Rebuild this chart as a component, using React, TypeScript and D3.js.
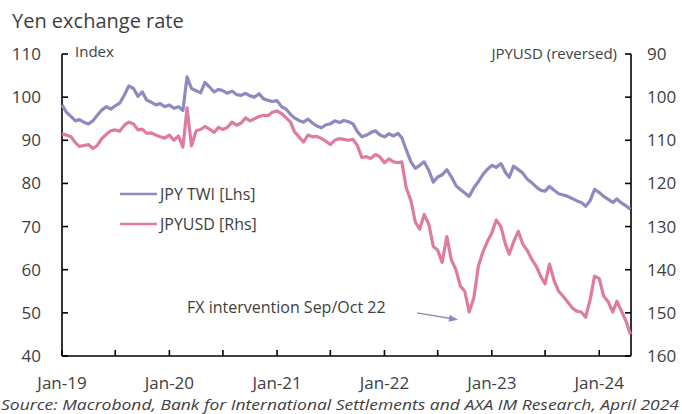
import React from "react";
import * as d3 from "d3";

// Semi-monthly observations (1st and 16th of each month), Jan-2019 .. Apr-2024
const twi: number[] = [
  // 2019
  98.2, 96.5, 95.5, 94.5, 94.8, 94.2, 93.8, 94.5, 95.8, 97.0, 97.8, 97.2,
  98.0, 98.6, 100.5, 102.6, 102.0, 100.2, 101.2, 99.3, 98.8, 98.2, 98.5, 97.8,
  // 2020
  98.2, 97.4, 97.8, 96.9, 104.7, 102.0, 101.5, 101.0, 103.4, 102.4, 101.2, 101.8,
  101.5, 100.9, 101.4, 100.6, 100.4, 100.9, 100.3, 100.0, 100.8, 99.6, 99.3, 99.0,
  // 2021
  99.2, 97.8, 97.2, 96.0, 95.2, 94.6, 94.2, 94.9, 94.0, 93.3, 92.9, 93.6,
  93.8, 94.5, 94.1, 94.6, 94.3, 93.8, 92.0, 90.8, 91.2, 91.8, 92.2, 91.3,
  // 2022
  90.8, 91.5, 91.0, 91.6, 90.6, 87.8, 85.0, 83.5, 84.2, 85.0, 83.0, 80.3,
  81.5, 82.0, 83.2, 81.6, 79.5, 78.6, 77.8, 77.0, 79.0, 80.4, 82.0, 83.2,
  // 2023
  84.2, 83.7, 84.6, 82.6, 81.4, 84.0, 83.2, 82.4, 81.0, 80.2, 79.2, 78.4,
  78.2, 79.3, 78.4, 77.6, 77.3, 77.0, 76.5, 76.0, 75.6, 74.7, 76.0, 78.6,
  // 2024
  77.9, 77.0, 76.3, 75.6, 76.4, 75.5, 74.8, 74.0,
];

const jpyusd: number[] = [
  // 2019
  108.5, 108.8, 109.2, 110.6, 111.4, 111.2, 111.0, 111.9, 111.2, 109.6, 108.6, 107.8,
  107.6, 107.9, 106.5, 105.8, 106.2, 107.6, 107.4, 108.4, 108.3, 108.8, 109.2, 109.5,
  // 2020
  108.8, 110.0, 109.0, 111.6, 102.5, 111.3, 107.8, 107.5, 106.8, 107.4, 108.2, 107.0,
  107.5, 107.0, 105.8, 106.5, 106.0, 104.8, 105.5, 105.0, 104.5, 104.2, 104.3, 103.5,
  // 2021
  103.2, 103.8, 104.8, 105.8, 108.0, 109.2, 110.4, 108.8, 109.2, 109.1, 109.6, 110.2,
  111.0, 110.0, 109.6, 109.8, 110.0, 109.8, 111.2, 114.0, 113.8, 114.2, 113.3, 113.8,
  // 2022
  115.2, 114.3, 115.0, 115.2, 115.0, 121.0, 124.0, 129.0, 130.6, 127.2, 129.5, 134.6,
  135.5, 138.3, 132.3, 137.6, 140.0, 143.8, 145.0, 149.8, 146.5, 139.2, 136.0, 133.6,
  // 2023
  131.5, 128.5, 130.0, 134.0, 136.4, 133.5, 131.1, 134.0, 135.5, 137.5, 139.2, 141.5,
  143.3, 138.7, 142.6, 145.0, 146.2, 147.5, 148.8, 149.6, 149.8, 151.0, 147.0, 141.5,
  // 2024
  142.0, 146.1, 147.5, 149.8, 147.3, 149.5, 151.9, 155.0,
];

const leftTicks: number[] = [40, 50, 60, 70, 80, 90, 100, 110];
const rightTicks: number[] = [90, 100, 110, 120, 130, 140, 150, 160];
const yearLabels: string[] = ["Jan-19", "Jan-20", "Jan-21", "Jan-22", "Jan-23", "Jan-24"];
const seriesNames: string[] = ["JPY TWI [Lhs]", "JPYUSD [Rhs]"];
const colors: string[] = ["#8e8ac0", "#df7aa0"];

const W = 682;
const H = 414;
const FONT = "'Open Sans', 'Noto Sans', sans-serif";
const TXT = "#404040";

export default function App() {
  const dates = twi.map((_, i) => new Date(2019, Math.floor(i / 2), i % 2 === 0 ? 1 : 16));
  const x = d3.scaleTime().domain([new Date(2019, 0, 1), new Date(2024, 3, 18)]).range([62, 631]);
  const yL = d3.scaleLinear().domain([40, 110]).range([356, 54]);
  const yR = d3.scaleLinear().domain([90, 160]).range([54, 356]);

  const lineL = d3
    .line<number>()
    .x((_, i) => x(dates[i]))
    .y((d) => yL(d));
  const lineR = d3
    .line<number>()
    .x((_, i) => x(dates[i]))
    .y((d) => yR(d));

  const xTicks = d3.timeMonth.every(6)!.range(new Date(2019, 0, 1), new Date(2024, 3, 18));
  const janTicks = yearLabels.map((_, i) => new Date(2019 + i, 0, 1));

  const arrowStart: [number, number] = [x(new Date(2022, 3, 22)), yR(150.0)];
  const arrowEnd: [number, number] = [x(new Date(2022, 8, 8)), yR(151.6)];
  const ang = Math.atan2(arrowEnd[1] - arrowStart[1], arrowEnd[0] - arrowStart[0]);
  const hl = 9;
  const hw = 3.5;
  const head = [
    arrowEnd,
    [arrowEnd[0] - hl * Math.cos(ang) + hw * Math.sin(ang), arrowEnd[1] - hl * Math.sin(ang) - hw * Math.cos(ang)],
    [arrowEnd[0] - hl * Math.cos(ang) - hw * Math.sin(ang), arrowEnd[1] - hl * Math.sin(ang) + hw * Math.cos(ang)],
  ]
    .map((p) => p.join(","))
    .join(" ");

  return (
    <svg
      width={W}
      height={H}
      viewBox={`0 0 ${W} ${H}`}
      style={{ position: "absolute", left: 0, top: 0, background: "#fff", fontFamily: FONT }}
    >
      <rect width={W} height={H} fill="#fff" />
      <text x={12} y={28} fontSize={20} fill={TXT}>
        Yen exchange rate
      </text>

      {/* left axis */}
      <line x1={62} x2={62} y1={yL(110)} y2={yL(40)} stroke="#000" strokeWidth={1.6} />
      {leftTicks.map((t) => (
        <g key={"l" + t}>
          <line x1={62} x2={68} y1={yL(t)} y2={yL(t)} stroke="#000" strokeWidth={1.6} />
          <text x={41} y={yL(t)} dy="0.35em" textAnchor="end" fontSize={17} fill={TXT}>
            {t}
          </text>
        </g>
      ))}
      <text x={75} y={yL(110) - 2} dy="0.35em" fontSize={15} fill={TXT}>
        Index
      </text>

      {/* right axis */}
      <line x1={631} x2={631} y1={yR(90)} y2={yR(160)} stroke="#000" strokeWidth={1.6} />
      {rightTicks.map((t) => (
        <g key={"r" + t}>
          <line x1={625} x2={631} y1={yR(t)} y2={yR(t)} stroke="#000" strokeWidth={1.6} />
          <text x={647} y={yR(t)} dy="0.35em" textAnchor="start" fontSize={17} fill={TXT}>
            {t}
          </text>
        </g>
      ))}
      <text x={617} y={yR(90)} dy="0.35em" textAnchor="end" fontSize={15} fill={TXT}>
        JPYUSD (reversed)
      </text>

      {/* x axis */}
      <line x1={62} x2={631} y1={356} y2={356} stroke="#000" strokeWidth={1.6} />
      {xTicks.map((d) => (
        <line key={+d} x1={x(d)} x2={x(d)} y1={356} y2={350} stroke="#000" strokeWidth={1.6} />
      ))}
      {yearLabels.map((lab, i) => (
        <text key={lab} x={x(janTicks[i])} y={383} dy="0.35em" textAnchor="middle" fontSize={17} fill={TXT}>
          {lab}
        </text>
      ))}

      {/* series */}
      <path d={lineL(twi) || ""} fill="none" stroke={colors[0]} strokeWidth={3.2} strokeLinejoin="round" />
      <path d={lineR(jpyusd) || ""} fill="none" stroke={colors[1]} strokeWidth={3.2} strokeLinejoin="round" />

      {/* legend */}
      {seriesNames.map((n, i) => (
        <g key={n} transform={`translate(0, ${194 + i * 30})`}>
          <line x1={120} x2={157} y1={0} y2={0} stroke={colors[i]} strokeWidth={2.6} />
          <text x={160} y={0} dy="0.35em" fontSize={16} fill={TXT}>
            {n}
          </text>
        </g>
      ))}

      {/* annotation */}
      <text x={187} y={307} dy="0.35em" fontSize={16} fill={TXT}>
        FX intervention Sep/Oct 22
      </text>
      <line
        x1={arrowStart[0]}
        y1={arrowStart[1]}
        x2={arrowEnd[0] - 6 * Math.cos(ang)}
        y2={arrowEnd[1] - 6 * Math.sin(ang)}
        stroke="#8e8ac0"
        strokeWidth={1.3}
      />
      <polygon points={head} fill="#8e8ac0" />

      <text
        x={1}
        y={405}
        dy="0.35em"
        fontSize={15}
        fontStyle="italic"
        fill={TXT}
        textLength={678}
        lengthAdjust="spacingAndGlyphs"
      >
        Source: Macrobond, Bank for International Settlements and AXA IM Research, April 2024
      </text>
    </svg>
  );
}
